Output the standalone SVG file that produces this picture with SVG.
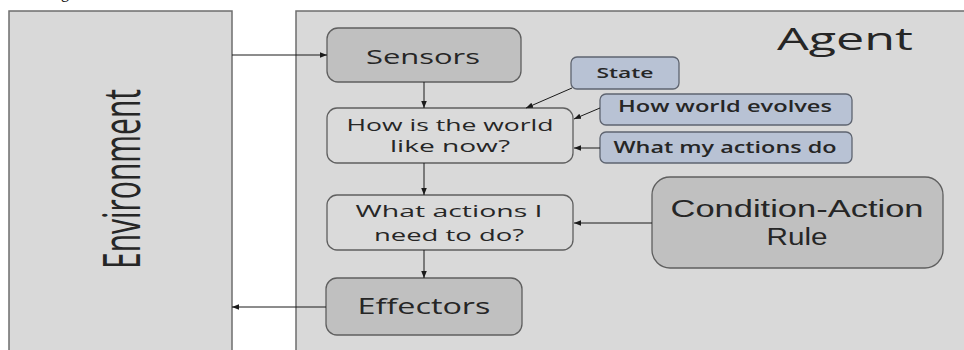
<svg xmlns="http://www.w3.org/2000/svg" width="964" height="350" viewBox="0 0 964 350">
  <defs>
    <marker id="arrow" viewBox="0 0 10 10" refX="10" refY="5" markerWidth="7" markerHeight="7" markerUnits="userSpaceOnUse" orient="auto">
      <path d="M0,1 L10,5 L0,9 z" fill="#1a1a1a"/>
    </marker>
    <style>
      .frame { fill: #d9d9d9; stroke: #6e6e6e; stroke-width: 1.5; }
      .plain { fill: #dadada; stroke: #5f5f5f; stroke-width: 1.3; }
      .dark  { fill: #c0c0c0; stroke: #5f5f5f; stroke-width: 1.3; }
      .blue  { fill: #b8c2d4; stroke: #5e6470; stroke-width: 1.3; }
      .lbl   { font-family: "Open Sans", "Noto Sans", sans-serif; fill: #262626; text-anchor: middle; }
      .rule  { font-family: "Liberation Sans", Arial, sans-serif; }
      .sm    { font-weight: 600; }
      .wire  { stroke: #1a1a1a; stroke-width: 1; fill: none; marker-end: url(#arrow); }
    </style>
  </defs>

  <rect width="964" height="350" fill="#ffffff"/>

  <!-- caption fragment above the frame -->
  <text x="61" y="-2" font-family="Liberation Serif, serif" font-size="16" fill="#000">g</text>

  <!-- environment panel -->
  <g id="environment">
    <rect class="frame" x="9" y="11" width="223" height="360"/>
    <text class="lbl" transform="translate(140,179) scale(1.5,1) rotate(-90)" x="0" y="0" font-size="34" textLength="180" lengthAdjust="spacingAndGlyphs">Environment</text>
  </g>

  <!-- agent panel -->
  <g id="agent">
    <rect class="frame" x="296" y="11" width="700" height="360"/>
    <text class="lbl" x="845" y="50" font-size="31" textLength="136" lengthAdjust="spacingAndGlyphs">Agent</text>
  </g>

  <g id="sensors">
    <rect class="dark" x="327" y="28" width="194" height="54" rx="11"/>
    <text class="lbl" x="423" y="64" font-size="20" textLength="114" lengthAdjust="spacingAndGlyphs">Sensors</text>
  </g>

  <g id="world-now">
    <rect class="plain" x="327" y="108" width="246" height="55" rx="10"/>
    <text class="lbl" x="450" y="131" font-size="17" textLength="207" lengthAdjust="spacingAndGlyphs">How is the world</text>
    <text class="lbl" x="450" y="152" font-size="17" textLength="120" lengthAdjust="spacingAndGlyphs">like now?</text>
  </g>

  <g id="actions-needed">
    <rect class="plain" x="327" y="195" width="246" height="55" rx="10"/>
    <text class="lbl" x="449" y="217" font-size="17" textLength="187" lengthAdjust="spacingAndGlyphs">What actions I</text>
    <text class="lbl" x="449" y="241" font-size="17" textLength="150" lengthAdjust="spacingAndGlyphs">need to do?</text>
  </g>

  <g id="effectors">
    <rect class="dark" x="326" y="278" width="196" height="57" rx="11"/>
    <text class="lbl" x="424" y="314" font-size="21" textLength="133" lengthAdjust="spacingAndGlyphs">Effectors</text>
  </g>

  <g id="state">
    <rect class="blue" x="571" y="57" width="108" height="32" rx="6"/>
    <text class="lbl sm" x="625" y="78" font-size="14" textLength="57" lengthAdjust="spacingAndGlyphs">State</text>
  </g>

  <g id="world-evolves">
    <rect class="blue" x="600" y="94" width="252" height="31" rx="6"/>
    <text class="lbl sm" x="725" y="112" font-size="16" textLength="214" lengthAdjust="spacingAndGlyphs">How world evolves</text>
  </g>

  <g id="action-effects">
    <rect class="blue" x="600" y="132" width="252" height="31" rx="6"/>
    <text class="lbl sm" x="725" y="153" font-size="16" textLength="223" lengthAdjust="spacingAndGlyphs">What my actions do</text>
  </g>

  <g id="condition-action-rule">
    <rect class="dark" x="652" y="177" width="291" height="91" rx="18"/>
    <text class="lbl rule" x="797" y="217" font-size="23" textLength="253" lengthAdjust="spacingAndGlyphs">Condition-Action</text>
    <text class="lbl rule" x="797" y="245" font-size="23" textLength="61" lengthAdjust="spacingAndGlyphs">Rule</text>
  </g>

  <!-- connectors -->
  <g id="connectors">
    <line class="wire" x1="232" y1="55" x2="327" y2="55"/>
    <line class="wire" x1="424" y1="82" x2="424" y2="108"/>
    <line class="wire" x1="572" y1="88" x2="526" y2="108"/>
    <line class="wire" x1="600" y1="108" x2="574" y2="119"/>
    <line class="wire" x1="600" y1="148" x2="574" y2="148"/>
    <line class="wire" x1="424" y1="163" x2="424" y2="195"/>
    <line class="wire" x1="652" y1="223" x2="574" y2="223"/>
    <line class="wire" x1="424" y1="250" x2="424" y2="278"/>
    <line class="wire" x1="326" y1="307" x2="232" y2="307"/>
  </g>
</svg>
